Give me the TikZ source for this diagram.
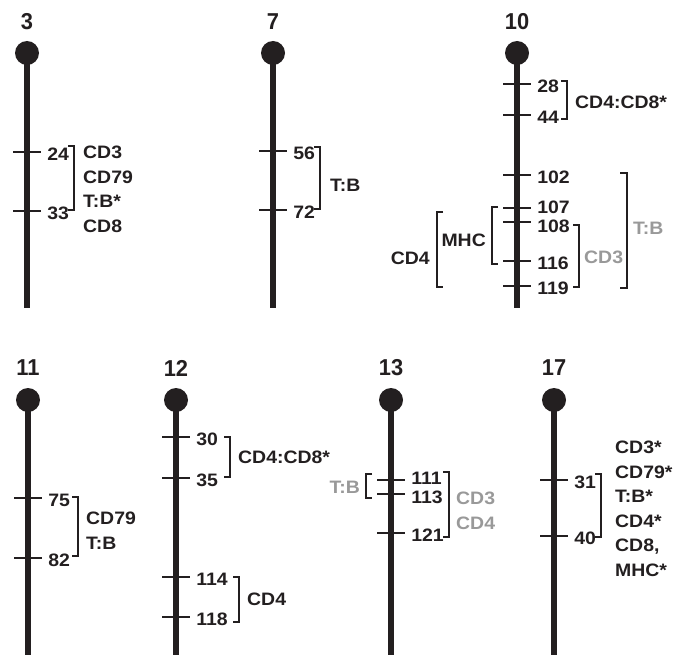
\documentclass[tikz,border=0pt]{standalone}
\usepackage{fontspec}
\setmainfont{Liberation Sans}[FakeStretch=1.08]
\newfontfamily\chrfont{Liberation Sans}[FakeStretch=0.95]
\usepackage{tikz}
\usetikzlibrary{positioning}
\definecolor{chrblack}{HTML}{231F20}
\definecolor{chrgray}{HTML}{999999}
\tikzset{
    chrline/.style = {line width=5.5bp, draw=chrblack},
    centromere/.style = {fill=chrblack},
    tickmark/.style = {line width=2.6bp, draw=chrblack},
    brack/.style = {line width=2bp, draw=chrblack},
    chrname/.style = {font=\chrfont\fontsize{23bp}{23bp}\selectfont\bfseries,
                      text=chrblack, inner sep=0pt},
    poslabel/.style = {font=\fontsize{18bp}{18bp}\selectfont\bfseries,
                       text=chrblack, inner sep=0pt, anchor=west},
    locus/.style = {font=\fontsize{18bp}{24.5bp}\selectfont\bfseries,
                    text=chrblack, inner sep=0pt, anchor=west, align=left},
    graylocus/.style = {locus, text=chrgray},
}

\begin{document}
\begin{tikzpicture}[x=1bp, y=-1bp]
    \useasboundingbox (0,0) rectangle (673,655);

    % chromosome 3
    \node[chrname] (n3) at (27,22) {3};
    \draw[chrline] (27,53) -- (27,308);
    \fill[centromere] (27,53) circle (12bp);
    \foreach \y/\p in {152/24, 211/33}
        \draw[tickmark] (13,\y) -- (41,\y)
              node[poslabel, right=5bp, yshift=-2bp] (p3-\p) {\p};
    \draw[brack] (68,146) -- (74,146) -- (74,210) -- (68,210);
    \node[locus] (g3) at (83,189.5) {CD3\\CD79\\T:B*\\CD8};

    % chromosome 7
    \node[chrname] (n7) at (273,22) {7};
    \draw[chrline] (273,53) -- (273,308);
    \fill[centromere] (273,53) circle (12bp);
    \foreach \y/\p in {151/56, 210/72}
        \draw[tickmark] (259,\y) -- (287,\y)
              node[poslabel, right=5bp, yshift=-2bp] (p7-\p) {\p};
    \draw[brack] (314,147) -- (320,147) -- (320,209) -- (314,209);
    \node[locus] (g7) at (330,185) {T:B};

    % chromosome 10
    \node[chrname] (n10) at (517,22) {10};
    \draw[chrline] (517,53) -- (517,308);
    \fill[centromere] (517,53) circle (12bp);
    \foreach \y/\p in {84/28, 115/44, 175/102, 261/116, 286/119}
        \draw[tickmark] (503,\y) -- (531,\y)
              node[poslabel, right=5bp, yshift=-2bp] (p10-\p) {\p};
    % 107 and 108 sit close together
    \draw[tickmark] (503,208) -- (531,208)
          node[poslabel, right=5bp, yshift=1bp] (p10-107) {107};
    \draw[tickmark] (503,222) -- (531,222)
          node[poslabel, right=5bp, yshift=-4bp] (p10-108) {108};
    \draw[brack] (561,81) -- (567,81) -- (567,119) -- (561,119);
    \node[locus] (g10a) at (575,102) {CD4:CD8*};
    \draw[brack] (573,225) -- (579,225) -- (579,287) -- (573,287);
    \node[graylocus] (g10b) at (584,257) {CD3};
    \draw[brack] (620,173) -- (627,173) -- (627,288) -- (620,288);
    \node[graylocus] (g10c) at (633,228) {T:B};
    % left side
    \draw[brack] (498,207) -- (492,207) -- (492,264) -- (498,264);
    \node[locus, anchor=east] (g10d) at (486,240) {MHC};
    \draw[brack] (443,212) -- (437,212) -- (437,287) -- (443,287);
    \node[locus, anchor=east] (g10e) at (430,258) {CD4};

    % chromosome 11
    \node[chrname] (n11) at (28,368) {11};
    \draw[chrline] (28,400) -- (28,655);
    \fill[centromere] (28,400) circle (12bp);
    \foreach \y/\p in {498/75, 558/82}
        \draw[tickmark] (14,\y) -- (42,\y)
              node[poslabel, right=5bp, yshift=-2bp] (p11-\p) {\p};
    \draw[brack] (72,497) -- (78,497) -- (78,556) -- (72,556);
    \node[locus] (g11) at (86,530.5) {CD79\\T:B};

    % chromosome 12
    \node[chrname] (n12) at (176,368) {12};
    \draw[chrline] (176,400) -- (176,655);
    \fill[centromere] (176,400) circle (12bp);
    \foreach \y/\p in {437/30, 478/35, 577/114, 617/118}
        \draw[tickmark] (162,\y) -- (190,\y)
              node[poslabel, right=5bp, yshift=-2bp] (p12-\p) {\p};
    \draw[brack] (224,437) -- (230,437) -- (230,477) -- (224,477);
    \node[locus] (g12a) at (238,457) {CD4:CD8*};
    \draw[brack] (233,577) -- (239,577) -- (239,622) -- (233,622);
    \node[locus] (g12b) at (247,599) {CD4};

    % chromosome 13
    \node[chrname] (n13) at (391,368) {13};
    \draw[chrline] (391,400) -- (391,655);
    \fill[centromere] (391,400) circle (12bp);
    \draw[tickmark] (377,480) -- (405,480)
          node[poslabel, right=5bp, yshift=2bp] (p13-111) {111};
    \draw[tickmark] (377,494) -- (405,494)
          node[poslabel, right=5bp, yshift=-3bp] (p13-113) {113};
    \draw[tickmark] (377,533) -- (405,533)
          node[poslabel, right=5bp, yshift=-2bp] (p13-121) {121};
    \draw[brack] (443,472) -- (449,472) -- (449,537) -- (443,537);
    \node[graylocus] (g13a) at (456,511) {CD3\\CD4};
    \draw[brack] (372,474) -- (366,474) -- (366,498) -- (372,498);
    \node[graylocus, anchor=east] (g13b) at (360,487) {T:B};

    % chromosome 17
    \node[chrname] (n17) at (554,368) {17};
    \draw[chrline] (554,400) -- (554,655);
    \fill[centromere] (554,400) circle (12bp);
    \foreach \y/\p in {480/31, 536/40}
        \draw[tickmark] (540,\y) -- (568,\y)
              node[poslabel, right=5bp, yshift=-2bp] (p17-\p) {\p};
    \draw[brack] (595,474) -- (601,474) -- (601,537) -- (595,537);
    \node[locus] (g17) at (615,509) {CD3*\\CD79*\\T:B*\\CD4*\\CD8,\\MHC*};
\end{tikzpicture}
\end{document}
